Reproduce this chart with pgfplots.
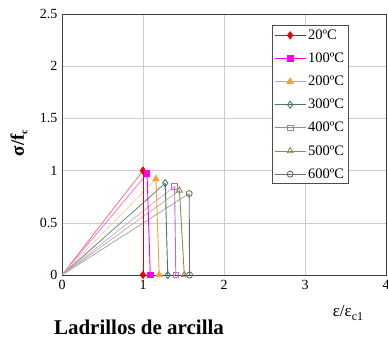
\documentclass[border=0pt]{standalone}
\usepackage{pgfplots}
\pgfplotsset{compat=1.18}
\usepackage{fontspec}
\setmainfont{Liberation Serif}
\definecolor{c20}{RGB}{235,0,0}
\definecolor{c100}{RGB}{255,0,230}
\definecolor{c200}{RGB}{245,160,50}
\definecolor{c300}{RGB}{70,120,100}
\definecolor{c400}{RGB}{190,110,200}
\definecolor{c500}{RGB}{140,140,80}
\definecolor{c600}{RGB}{110,110,110}
\pgfplotsset{longleg/.style={legend image code/.code={\draw[mark repeat=2,mark phase=2,##1] plot coordinates {(0pt,0pt)(15.5pt,0pt)(31pt,0pt)};}}}
\begin{document}
\begin{tikzpicture}
\begin{axis}[
  scale only axis, width=324pt, height=261pt,
  xmin=0, xmax=4, ymin=0, ymax=2.5,
  xtick={0,1,2,3,4}, ytick={0,0.5,1,1.5,2,2.5},
  yticklabels={0,0.5,1,1.5,2,2.5},
  major tick length=0pt,
  grid=major, grid style={gray!40, line width=0.5pt},
  axis line style={black!75, line width=0.7pt},
  ticklabel style={font=\fontsize{14}{16}\selectfont},
  /pgf/number format/assume math mode=true,
  xticklabel style={yshift=-2pt},
  yticklabel style={xshift=-1pt},
  legend style={at={(0.648,0.956)}, anchor=north west, draw=black!70, line width=0.5pt,
    font=\fontsize{14.5}{16}\selectfont, row sep=8pt, inner sep=2pt,
    nodes={inner xsep=2pt}},
  legend cell align=left,
]
% rising (pale) segments
\addplot[c20!55, line width=0.8pt, forget plot] coordinates {(0,0) (1,1)};
\addplot[c100!55, line width=0.8pt, forget plot] coordinates {(0,0) (1.05,0.97)};
\addplot[c200!45, line width=0.8pt, forget plot] coordinates {(0,0) (1.16,0.92)};
\addplot[c300!85, line width=0.8pt, forget plot] coordinates {(0,0) (1.275,0.88)};
\addplot[c400!60, line width=0.8pt, forget plot] coordinates {(0,0) (1.39,0.85)};
\addplot[c500!60, line width=0.8pt, forget plot] coordinates {(0,0) (1.45,0.81)};
\addplot[c600!60, line width=0.8pt, forget plot] coordinates {(0,0) (1.57,0.78)};
% drops with markers
\addplot[c20, line width=0.9pt, mark=diamond*, mark size=3.5pt, forget plot] coordinates {(1,1) (1,0)};
\addplot[c100, line width=0.9pt, mark=square*, mark size=2.8pt, forget plot] coordinates {(1.05,0.97) (1.09,0)};
\addplot[c200, line width=0.9pt, mark=triangle*, mark size=3.5pt, forget plot] coordinates {(1.16,0.92) (1.20,0)};
\addplot[c300, line width=0.9pt, mark=diamond, mark size=3.5pt, forget plot] coordinates {(1.275,0.88) (1.305,0)};
\addplot[c400, line width=0.9pt, mark=square, mark size=2.8pt, forget plot] coordinates {(1.39,0.85) (1.405,0)};
\addplot[c500, line width=0.9pt, mark=triangle, mark size=3.5pt, forget plot] coordinates {(1.45,0.81) (1.51,0)};
\addplot[c600, line width=0.9pt, mark=o, mark size=3pt, forget plot] coordinates {(1.57,0.78) (1.575,0)};
\addlegendimage{c20, line width=0.9pt, mark=diamond*, mark size=3.5pt, longleg}
\addlegendentry{20ºC}
\addlegendimage{c100, line width=0.9pt, mark=square*, mark size=2.8pt, longleg}
\addlegendentry{100ºC}
\addlegendimage{c200, line width=0.9pt, mark=triangle*, mark size=3.5pt, longleg}
\addlegendentry{200ºC}
\addlegendimage{c300, line width=0.9pt, mark=diamond, mark size=3.5pt, longleg}
\addlegendentry{300ºC}
\addlegendimage{c400, line width=0.9pt, mark=square, mark size=2.8pt, longleg}
\addlegendentry{400ºC}
\addlegendimage{c500, line width=0.9pt, mark=triangle, mark size=3.5pt, longleg}
\addlegendentry{500ºC}
\addlegendimage{c600, line width=0.9pt, mark=o, mark size=3pt, longleg}
\addlegendentry{600ºC}
\end{axis}
\node[rotate=90, font=\fontsize{19}{21}\selectfont\bfseries] at (-43pt,132pt) {σ/f\raisebox{-0.4ex}{\fontsize{10}{11}\selectfont c}};
\node[font=\fontsize{17}{19}\selectfont] at (286pt,-38pt) {ε/ε\raisebox{-0.4ex}{\fontsize{12}{13}\selectfont c1}};
\node[font=\fontsize{21}{23}\selectfont\bfseries] at (77pt,-52pt) {Ladrillos de arcilla};
\pgfresetboundingbox
\path[use as bounding box] (-62pt,-64pt) rectangle (326pt,275pt);
\end{tikzpicture}
\end{document}
